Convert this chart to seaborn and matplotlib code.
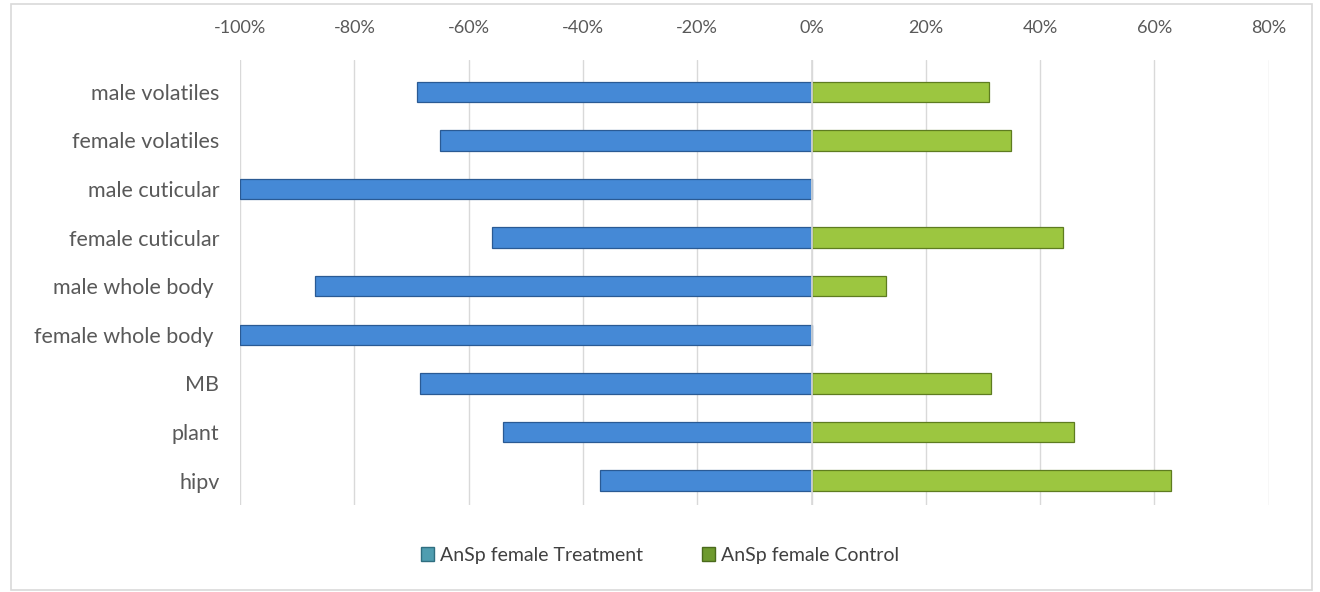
import matplotlib
matplotlib.use('Agg')
import matplotlib.pyplot as plt
import seaborn as sns
import pandas as pd
from matplotlib.ticker import PercentFormatter
from matplotlib.patches import Patch

categories = ['male volatiles', 'female volatiles', 'male cuticular', 'female cuticular',
              'male whole body ', 'female whole body ', 'MB', 'plant', 'hipv']
treatment = [-0.69, -0.65, -1.00, -0.56, -0.87, -1.00, -0.685, -0.54, -0.37]
control = [0.31, 0.35, 0.0, 0.44, 0.13, 0.0, 0.315, 0.46, 0.63]
series = ['AnSp female Treatment', 'AnSp female Control']

df = pd.concat([
    pd.DataFrame({'cat': categories, 'val': treatment, 'series': series[0]}),
    pd.DataFrame({'cat': categories, 'val': control, 'series': series[1]}),
])

sns.set_style('white')
plt.rcParams['font.family'] = ['Lato', 'DejaVu Sans']
plt.rcParams['axes.unicode_minus'] = False

fig = plt.figure(figsize=(13.2, 5.92), dpi=100)
ax = fig.add_axes([0.182, 0.147, 0.779, 0.752])

pal = {series[0]: '#4589d6', series[1]: '#9cc640'}
edges = {series[0]: '#2a5a94', series[1]: '#5e7c20'}
sns.barplot(data=df, x='val', y='cat', hue='series', order=categories, palette=pal,
            saturation=1, dodge=False, width=0.42, orient='h', ax=ax, legend=False, zorder=3)
for bars, s in zip(ax.containers, series):
    for b in bars:
        if b.get_width() != 0:
            b.set_edgecolor(edges[s])
            b.set_linewidth(0.9)
        else:
            b.set_visible(False)

ax.set_xlim(-1.0, 0.8)
ax.set_ylim(8.5, -0.66)
ax.set_xticks([-1.0, -0.8, -0.6, -0.4, -0.2, 0, 0.2, 0.4, 0.6, 0.8])
ax.xaxis.set_major_formatter(PercentFormatter(1.0, decimals=0))
ax.xaxis.tick_top()
ax.grid(axis='x', color='#d9d9d9', linewidth=1, zorder=0)
ax.axvline(0, color='#d9d9d9', linewidth=1.2, zorder=4)
for sp in ax.spines.values():
    sp.set_visible(False)
ax.tick_params(axis='x', length=0, labelsize=13, colors='#595959', pad=17)
ax.tick_params(axis='y', length=0, labelsize=15.5, colors='#595959', pad=15)
ax.set_xlabel('')
ax.set_ylabel('')

handles = [Patch(facecolor='#4f9db0', edgecolor='#2f6e80'),
           Patch(facecolor='#6e9a2e', edgecolor='#4a6a1c')]
fig.legend(handles, series, loc='center', bbox_to_anchor=(0.5, 0.062), ncol=2,
           frameon=False, fontsize=14, handlelength=0.7, handleheight=0.7,
           handletextpad=0.3, columnspacing=3.0, labelcolor='#404040')

fig.patches.append(plt.Rectangle((0.008, 0.003), 0.986, 0.99, transform=fig.transFigure,
                                 fill=False, edgecolor='#d9d9d9', linewidth=1.2))

fig.savefig('out.png', dpi=100, facecolor='white')
